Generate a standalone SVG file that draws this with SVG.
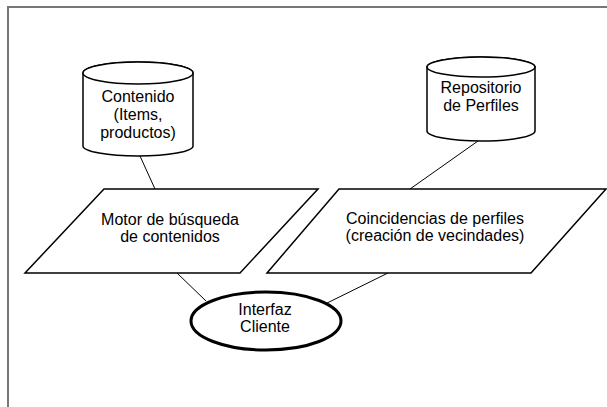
<svg xmlns="http://www.w3.org/2000/svg" width="607" height="407" viewBox="0 0 607 407">
<style>
.shape{fill:#fff;stroke:#000;stroke-width:1.5}
.thick{fill:#fff;stroke:#000;stroke-width:3}
.conn{stroke:#000;stroke-width:1;fill:none}
.frame{stroke:#777;stroke-width:2;fill:none}
text{font-family:"Liberation Sans",Arial,sans-serif;font-size:16px;fill:#000;text-anchor:middle}
</style>
<rect width="607" height="407" fill="#fff"/>
<path class="frame" d="M8,407 V7 H607"/>
<g id="connectors">
<line class="conn" x1="140" y1="156" x2="155" y2="189"/>
<line class="conn" x1="478" y1="141" x2="410" y2="189"/>
<line class="conn" x1="177" y1="273" x2="206" y2="301"/>
<line class="conn" x1="388" y1="273" x2="319" y2="307"/>
</g>
<g id="contenido">
<path class="shape" d="M83,73 V146 A55,10 0 0 0 193,146 V73 A55,11 0 0 0 83,73 Z"/>
<ellipse class="shape" cx="138" cy="73" rx="55" ry="11"/>
<text x="138" y="102">Contenido</text>
<text x="138" y="120">(Items,</text>
<text x="138" y="138">productos)</text>
</g>
<g id="repositorio">
<path class="shape" d="M427,67 V131 A54,10 0 0 0 535,131 V67 A54,10 0 0 0 427,67 Z"/>
<ellipse class="shape" cx="481" cy="67" rx="54" ry="10"/>
<text x="481" y="93">Repositorio</text>
<text x="481" y="111">de Perfiles</text>
</g>
<g id="motor">
<polygon class="shape" points="104,189 318,189 240,273 25,273"/>
<text x="170" y="225">Motor de búsqueda</text>
<text x="170" y="242">de contenidos</text>
</g>
<g id="coincidencias">
<polygon class="shape" points="339,189 606,189 531,273 267,273"/>
<text x="435" y="224">Coincidencias de perfiles</text>
<text x="435" y="241">(creación de vecindades)</text>
</g>
<g id="interfaz">
<ellipse class="thick" cx="266" cy="321" rx="75" ry="29"/>
<text x="265" y="315">Interfaz</text>
<text x="265" y="332">Cliente</text>
</g>
</svg>
